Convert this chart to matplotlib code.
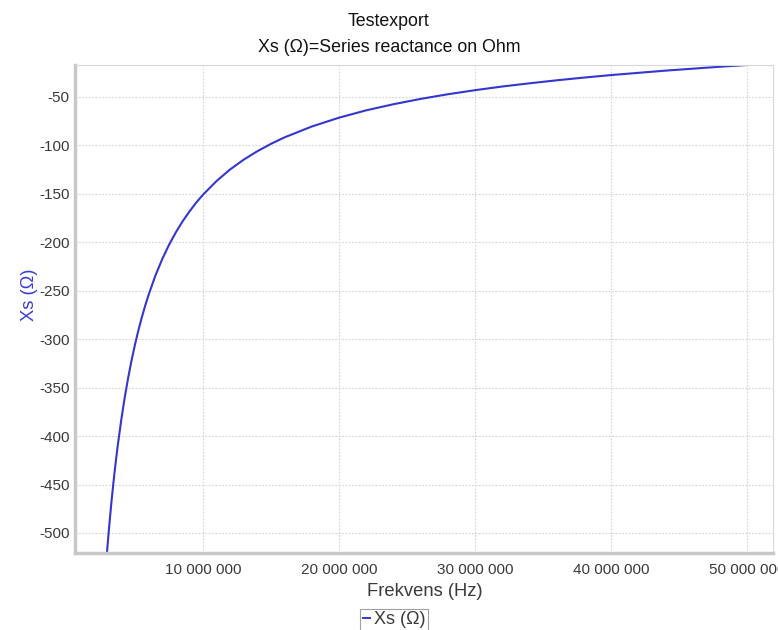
import matplotlib
matplotlib.use("Agg")
import matplotlib.pyplot as plt
from matplotlib.ticker import FuncFormatter, FixedLocator
from matplotlib.lines import Line2D

plt.rcParams['font.family'] = ['Liberation Sans', 'DejaVu Sans']

# Series reactance vs. frequency
freq_mhz = [2.95, 3.0, 3.1, 3.25, 3.4, 3.5, 3.6, 3.75, 4.0, 4.25, 4.5, 4.75, 5.0, 5.25,
            5.5, 5.75, 6.0, 6.5, 7.0, 7.5, 8.0, 8.5, 9.0, 9.5, 10.0,
            11.0, 12.0, 13.0, 14.0, 15.0, 16.0, 18.0, 20.0, 22.0, 24.0, 26.0, 28.0,
            30.0, 32.0, 34.0, 36.0, 38.0, 40.0, 42.0, 44.0, 46.0, 48.0, 50.0]
xs_ohm = [-520.4, -511.7, -495.1, -472.2, -451.3, -438.3, -426.1, -408.9, -383.3,
          -360.6, -340.4, -322.4, -306.1, -291.4,
          -278.0, -265.8, -254.6, -234.7, -217.7, -202.9, -190.0, -178.5, -168.4,
          -159.2, -151.0, -136.8, -124.8, -114.7, -106.0,
          -98.4, -91.7, -80.5, -71.4, -63.8, -57.5, -52.0, -47.2, -43.0, -39.2,
          -35.9, -32.8, -30.0, -27.4, -25.1, -22.8, -20.8, -18.8, -17.0]

x_ticks = [10e6, 20e6, 30e6, 40e6, 50e6]
y_ticks = [-50, -100, -150, -200, -250, -300, -350, -400, -450, -500]

title_main = "Testexport"
title_sub = "Xs (Ω)=Series reactance on Ohm"
x_label = "Frekvens (Hz)"
y_label = "Xs (Ω)"
series_name = "Xs (Ω)"

line_color = "#3535d0"
label_color = "#3b3bd6"
text_color = "#3a3a3a"

fig = plt.figure(figsize=(7.78, 6.3), dpi=100)
ax = fig.add_axes([75 / 778, 1 - 553 / 630, 698 / 778, 488 / 630])

freq_hz = [f * 1e6 for f in freq_mhz]
ax.plot(freq_hz, xs_ohm, color=line_color, lw=1.5, solid_joinstyle='round')

ax.set_xlim(0.6e6, 51.9e6)
ax.set_ylim(-520.7, -17.0)

ax.xaxis.set_major_locator(FixedLocator(x_ticks))
ax.yaxis.set_major_locator(FixedLocator(y_ticks))
ax.xaxis.set_major_formatter(FuncFormatter(lambda v, p: f"{int(round(v)):,}".replace(",", " ")))
ax.yaxis.set_major_formatter(FuncFormatter(lambda v, p: f"{int(round(v))}"))

ax.grid(True, color="#d4d4d4", linestyle=(0, (1.5, 1.5)), linewidth=0.8)
ax.set_axisbelow(True)
ax.tick_params(axis='both', length=0, labelsize=11, labelcolor=text_color)
ax.tick_params(axis='x', pad=7)
ax.tick_params(axis='y', pad=4)

for side in ('left', 'bottom'):
    ax.spines[side].set_color("#c8c8c8")
    ax.spines[side].set_linewidth(2.5)
for side in ('top', 'right'):
    ax.spines[side].set_color("#d8d8d8")
    ax.spines[side].set_linewidth(0.8)

fig.text(0.5, 1 - 22 / 630, title_main, ha='center', va='center', fontsize=12.8, color="#111111")
fig.text(0.5, 1 - 48 / 630, title_sub, ha='center', va='center', fontsize=12.8, color="#111111")
fig.text(425 / 778, 1 - 592 / 630, x_label, ha='center', va='center', fontsize=13.2, color=text_color)
fig.text(30 / 778, 1 - 295 / 630, y_label, ha='center', va='center', fontsize=13.2,
         color=label_color, rotation=90)

handle = Line2D([], [], color=line_color, lw=1.4)
leg = fig.legend([handle], [series_name], loc='center', bbox_to_anchor=(394 / 778, 1 - 620 / 630),
                 fontsize=13, frameon=True, fancybox=False, handlelength=0.4,
                 handletextpad=0.2, borderpad=0.15, borderaxespad=0)
leg.get_frame().set_edgecolor("#888888")
leg.get_frame().set_linewidth(0.8)
for t in leg.get_texts():
    t.set_color(text_color)

fig.savefig("out.png", dpi=100, facecolor="white")
